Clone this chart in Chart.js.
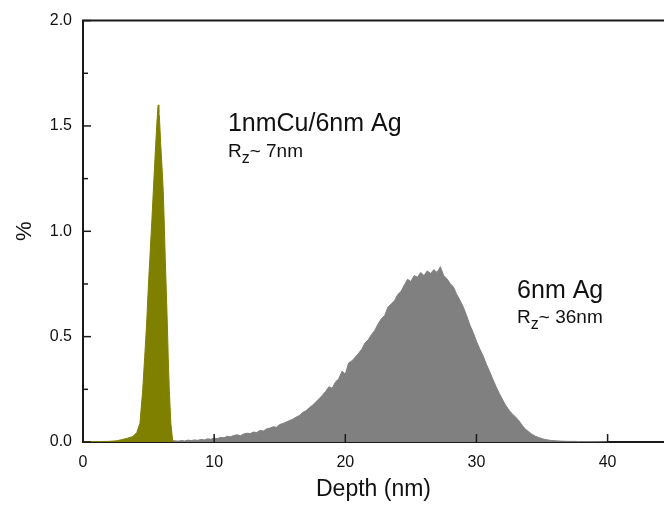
<!DOCTYPE html>
<html><head><meta charset="utf-8">
<script src="https://cdn.jsdelivr.net/npm/chart.js@4/dist/chart.umd.min.js"></script>
<style>html,body{margin:0;padding:0;background:#fff;overflow:hidden}#wrap{width:664px;height:509px;position:relative}</style>
</head><body><div id="wrap"><canvas id="c"></canvas></div>
<script>
// 1nmCu/6nm Ag profile
const cuDepth = [0, 1.0, 2.0, 2.6, 3.0, 3.4, 3.8, 4.1, 4.34, 4.55, 4.7, 4.85, 5.0, 5.1, 5.25, 5.36, 5.5, 5.62, 5.7, 5.74, 5.78, 5.82, 5.92, 6.02, 6.12, 6.2, 6.27, 6.35, 6.43, 6.5, 6.58, 6.7, 6.83, 6.95];
const cuPct   = [0.002, 0.002, 0.003, 0.006, 0.012, 0.018, 0.026, 0.045, 0.088, 0.245, 0.40, 0.56, 0.76, 0.875, 1.05, 1.19, 1.36, 1.50, 1.58, 1.60, 1.56, 1.55, 1.42, 1.31, 1.19, 1.03, 0.875, 0.72, 0.56, 0.40, 0.245, 0.088, 0.01, 0];
// 6nm Ag profile
const agDepth = [6.75,7,7.25,7.5,7.75,8,8.25,8.5,8.75,9,9.25,9.5,9.75,10,10.25,10.5,10.75,11,11.25,11.5,11.75,12,12.25,12.5,12.75,13,13.25,13.5,13.75,14,14.25,14.5,14.75,15,15.25,15.5,15.75,16,16.25,16.5,16.75,17,17.25,17.5,17.75,18,18.25,18.5,18.75,19,19.25,19.5,19.75,20,20.25,20.5,20.75,21,21.25,21.5,21.75,22,22.25,22.5,22.75,23,23.25,23.5,23.75,24,24.25,24.5,24.75,25,25.25,25.5,25.75,26,26.25,26.5,26.75,27,27.25,27.5,27.75,28,28.25,28.5,28.75,29,29.25,29.5,29.75,30,30.25,30.5,30.75,31,31.25,31.5,31.75,32,32.25,32.5,32.75,33,33.25,33.5,33.75,34,34.25,34.5,34.75,35,35.25,35.5,35.75,36,36.5,37,37.5,38,38.5,39,39.5,40];
const agPct = [0.003,0.006,0.004,0.007,0.005,0.009,0.007,0.010,0.008,0.012,0.010,0.015,0.013,0.018,0.016,0.022,0.020,0.027,0.025,0.031,0.034,0.030,0.038,0.042,0.040,0.047,0.045,0.055,0.052,0.062,0.066,0.072,0.070,0.083,0.088,0.095,0.102,0.108,0.118,0.126,0.140,0.148,0.162,0.175,0.190,0.205,0.222,0.240,0.262,0.255,0.285,0.300,0.336,0.322,0.375,0.385,0.402,0.420,0.440,0.470,0.485,0.510,0.530,0.560,0.585,0.600,0.640,0.655,0.670,0.700,0.715,0.745,0.772,0.762,0.790,0.782,0.805,0.790,0.812,0.800,0.818,0.805,0.832,0.790,0.775,0.752,0.735,0.700,0.672,0.640,0.600,0.555,0.520,0.478,0.442,0.410,0.370,0.335,0.298,0.262,0.230,0.200,0.172,0.150,0.132,0.118,0.100,0.078,0.060,0.048,0.036,0.027,0.021,0.016,0.012,0.009,0.007,0.006,0.004,0.003,0.003,0.002,0.002,0.002,0.001,0];
const xTicks = [0, 10, 20, 30, 40];
const yTicks = [0, 0.5, 1.0, 1.5, 2.0];
const yMinor = [0.25, 0.75, 1.25, 1.75];

const FONT = "'Liberation Sans', Arial, sans-serif";
const notes = [
  {main: '1nmCu/6nm Ag', sub: '~ 7nm', x: 11.05, y: 1.478, y2: 1.352},
  {main: '6nm Ag', sub: '~ 36nm', x: 33.1, y: 0.683, y2: 0.565}
];

const deco = {
  id: 'deco',
  afterDraw(chart) {
    const {ctx, chartArea: a, scales: {x, y}} = chart;
    ctx.save();
    ctx.strokeStyle = '#1a1a1a';
    ctx.lineWidth = 2;
    ctx.beginPath(); ctx.moveTo(a.left - 1, a.top); ctx.lineTo(a.right, a.top); ctx.stroke();
    ctx.lineWidth = 1.5;
    const seg = (x1, y1, x2, y2) => { ctx.beginPath(); ctx.moveTo(x1, y1); ctx.lineTo(x2, y2); ctx.stroke(); };
    yTicks.forEach(v => { const p = y.getPixelForValue(v); seg(a.left, p, a.left + 8, p); });
    yMinor.forEach(v => { const p = y.getPixelForValue(v); seg(a.left, p, a.left + 5, p); });
    xTicks.forEach(v => { const p = x.getPixelForValue(v); seg(p, a.bottom, p, a.bottom - 8); });
    ctx.fillStyle = '#111';
    ctx.textBaseline = 'alphabetic';
    notes.forEach(n => {
      const px = x.getPixelForValue(n.x);
      ctx.font = '25px ' + FONT;
      ctx.fillText(n.main, px, y.getPixelForValue(n.y));
      const py2 = y.getPixelForValue(n.y2);
      ctx.font = '19px ' + FONT;
      ctx.fillText('R', px, py2);
      const wR = ctx.measureText('R').width;
      ctx.font = '16px ' + FONT;
      ctx.fillText('z', px + wR, py2 + 6);
      const wz = ctx.measureText('z').width;
      ctx.font = '19px ' + FONT;
      ctx.fillText(n.sub, px + wR + wz, py2);
    });
    ctx.restore();
  }
};

new Chart(document.getElementById('c'), {
  type: 'line',
  data: {
    datasets: [
      {label: '1nmCu/6nm Ag', data: cuDepth.map((d, i) => ({x: d, y: cuPct[i]})), borderColor: '#808000', backgroundColor: '#808000', borderWidth: 1, fill: 'origin', pointRadius: 0, tension: 0, order: 1},
      {label: '6nm Ag', data: agDepth.map((d, i) => ({x: d, y: agPct[i]})), borderColor: '#808080', backgroundColor: '#808080', borderWidth: 1, fill: 'origin', pointRadius: 0, tension: 0, order: 2}
    ]
  },
  options: {
    animation: false,
    responsive: true,
    maintainAspectRatio: false,
    layout: {padding: {top: 17, right: 0, bottom: 0, left: 0}},
    plugins: {legend: {display: false}, tooltip: {enabled: false}},
    scales: {
      x: {
        type: 'linear', min: 0, max: 44.3, z: 1,
        grid: {display: false, drawTicks: false},
        border: {display: true, width: 2, color: '#1a1a1a'},
        ticks: {stepSize: 10, includeBounds: false, padding: 11, color: '#111', font: {family: FONT, size: 16}, maxRotation: 0},
        title: {display: true, text: 'Depth (nm)', color: '#111', font: {family: FONT, size: 23}, padding: {top: 0, bottom: 6}},
        afterFit: s => { s.height = 67; }
      },
      y: {
        type: 'linear', min: 0, max: 2, z: 1,
        grid: {display: false, drawTicks: false},
        border: {display: true, width: 2, color: '#1a1a1a'},
        ticks: {stepSize: 0.5, padding: 11, color: '#111', font: {family: FONT, size: 16}, callback: v => v.toFixed(1)},
        title: {display: true, text: '%', color: '#111', font: {family: FONT, size: 22}, padding: {top: 12, bottom: 0}},
        afterFit: s => { s.width = 83; }
      }
    }
  },
  plugins: [deco]
});
</script></body></html>
